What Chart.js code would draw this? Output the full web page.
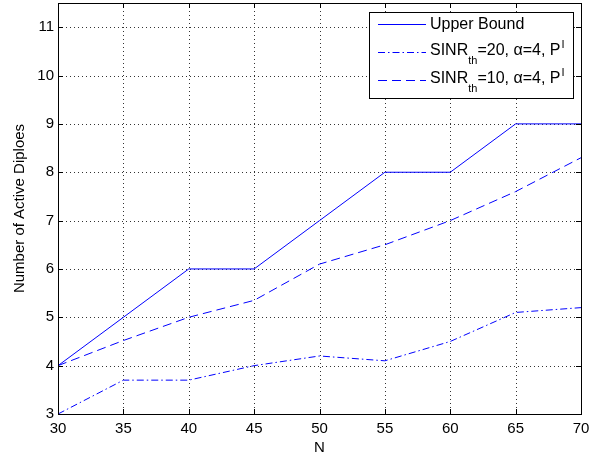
<!DOCTYPE html>
<html>
<head>
<meta charset="utf-8">
<script src="https://cdn.jsdelivr.net/npm/chart.js@4/dist/chart.umd.min.js"></script>
<style>
  html, body { margin: 0; padding: 0; background: #fff; }
  #wrap { width: 589px; height: 459px; position: relative; }
</style>
</head>
<body>
<div id="wrap"><canvas id="c"></canvas></div>
<script>
// data
const nValues = [30, 35, 40, 45, 50, 55, 60, 65, 70];
const upperBound = [4, 5, 6, 6, 7, 8, 8, 9, 9];
const sinr20 = [3.0, 3.7, 3.7, 4.0, 4.2, 4.1, 4.5, 5.1, 5.2];
const sinr10 = [4.0, 4.52, 5.0, 5.35, 6.1, 6.5, 7.0, 7.6, 8.3];
const xTicks = [30, 35, 40, 45, 50, 55, 60, 65, 70];
const yTicks = [3, 4, 5, 6, 7, 8, 9, 10, 11];

const FONT = "'Liberation Sans', Arial, sans-serif";
const BLUE = '#0000ff';
const DASHDOT = [7, 3, 1.5, 3];
const DASHED = [9, 5];

Chart.defaults.font.family = FONT;
Chart.defaults.color = '#000';

const toXY = ys => nValues.map((x, i) => ({ x: x, y: ys[i] }));

// dotted grid drawn under the lines
const dottedGrid = {
    id: 'dottedGrid',
    beforeDatasetsDraw(chart) {
        const { ctx, chartArea: a, scales } = chart;
        ctx.save();
        ctx.strokeStyle = '#333';
        ctx.lineWidth = 1;
        ctx.setLineDash([1, 3]);
        ctx.beginPath();
        xTicks.slice(1, -1).forEach(v => {
            const x = Math.round(scales.x.getPixelForValue(v)) + 0.5;
            ctx.moveTo(x, a.top); ctx.lineTo(x, a.bottom);
        });
        yTicks.slice(1).forEach(v => {
            const y = Math.round(scales.y.getPixelForValue(v)) + 0.5;
            ctx.moveTo(a.left, y); ctx.lineTo(a.right, y);
        });
        ctx.stroke();
        ctx.restore();
    }
};

// MATLAB-style frame, inward ticks and legend
const matlabFrame = {
    id: 'matlabFrame',
    afterDraw(chart) {
        const { ctx, chartArea: a, scales } = chart;
        ctx.save();
        ctx.strokeStyle = '#000';
        ctx.lineWidth = 1;
        ctx.setLineDash([]);
        ctx.strokeRect(Math.round(a.left) + 0.5, Math.round(a.top) + 0.5,
            Math.round(a.right - a.left), Math.round(a.bottom - a.top));
        const tl = 5;
        ctx.beginPath();
        xTicks.forEach(v => {
            const x = Math.round(scales.x.getPixelForValue(v)) + 0.5;
            ctx.moveTo(x, a.bottom); ctx.lineTo(x, a.bottom - tl);
            ctx.moveTo(x, a.top); ctx.lineTo(x, a.top + tl);
        });
        yTicks.forEach(v => {
            const y = Math.round(scales.y.getPixelForValue(v)) + 0.5;
            ctx.moveTo(a.left, y); ctx.lineTo(a.left + tl, y);
            ctx.moveTo(a.right, y); ctx.lineTo(a.right - tl, y);
        });
        ctx.stroke();

        // legend
        const bx = 369.5, by = 12.5, bw = 204, bh = 86;
        ctx.fillStyle = '#fff';
        ctx.fillRect(bx, by, bw, bh);
        ctx.strokeRect(bx, by, bw, bh);
        const rows = [
            { dash: [], y: 24, parts: [['Upper Bound', 0]] },
            { dash: DASHDOT, y: 52, parts: [['SINR', 0], ['th', 1], ['=20, \u03b1=4, P', 0], ['I', -1]] },
            { dash: DASHED, y: 80, parts: [['SINR', 0], ['th', 1], ['=10, \u03b1=4, P', 0], ['I', -1]] }
        ];
        rows.forEach(r => {
            ctx.strokeStyle = BLUE;
            ctx.setLineDash(r.dash);
            ctx.beginPath();
            ctx.moveTo(378, r.y + 0.5);
            ctx.lineTo(426, r.y + 0.5);
            ctx.stroke();
            ctx.setLineDash([]);
            ctx.fillStyle = '#000';
            ctx.textBaseline = 'middle';
            let x = 430;
            const base = r.parts.length > 1 ? -1 : 1;
            r.parts.forEach(([t, k]) => {
                ctx.font = (k === 0 ? '16px ' : '11px ') + FONT;
                const dy = k === 1 ? 9 : (k === -1 ? -7 : base);
                ctx.fillText(t, x + (k === -1 ? 1 : 0), r.y + dy);
                x += ctx.measureText(t).width;
            });
        });
        ctx.restore();
    }
};

new Chart(document.getElementById('c').getContext('2d'), {
    type: 'line',
    data: {
        datasets: [
            { label: 'Upper Bound', data: toXY(upperBound), borderColor: BLUE, borderWidth: 1 },
            { label: 'SINR_th=20', data: toXY(sinr20), borderColor: BLUE, borderWidth: 1, borderDash: DASHDOT },
            { label: 'SINR_th=10', data: toXY(sinr10), borderColor: BLUE, borderWidth: 1, borderDash: DASHED }
        ]
    },
    options: {
        responsive: true,
        maintainAspectRatio: false,
        animation: false,
        elements: { point: { radius: 0 }, line: { tension: 0 } },
        layout: { padding: { top: 3, right: 8, left: 0, bottom: 0 } },
        plugins: { legend: { display: false }, tooltip: { enabled: false } },
        scales: {
            x: {
                type: 'linear', min: 30, max: 70,
                afterBuildTicks: s => { s.ticks = xTicks.map(v => ({ value: v })); },
                afterFit: s => { s.height = 45; s.paddingLeft = 0; s.paddingRight = 0; },
                ticks: { font: { size: 15 }, padding: 6, maxRotation: 0 },
                grid: { display: false, drawTicks: false },
                border: { display: false },
                title: { display: true, text: 'N', font: { size: 15 }, padding: { top: 0, bottom: 2 } }
            },
            y: {
                min: 3, max: 11.5,
                afterBuildTicks: s => { s.ticks = yTicks.map(v => ({ value: v })); },
                afterFit: s => { s.width = 58; s.paddingTop = 0; s.paddingBottom = 0; },
                ticks: { font: { size: 15 }, padding: 4 },
                grid: { display: false, drawTicks: false },
                border: { display: false },
                title: { display: true, text: 'Number of Active Diploes', font: { size: 15 }, padding: { top: 11, bottom: 0 } }
            }
        }
    },
    plugins: [dottedGrid, matlabFrame]
});
</script>
</body>
</html>
